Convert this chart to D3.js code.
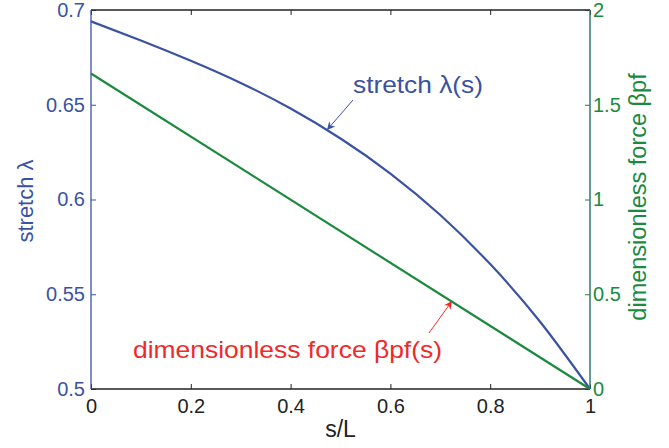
<!DOCTYPE html>
<html><head><meta charset="utf-8">
<script src="https://cdn.jsdelivr.net/npm/d3@7"></script>
<style>body{margin:0;background:#fff}svg{display:block}text{font-family:"Liberation Sans",Arial,sans-serif}</style>
</head><body><svg id="c" width="669" height="448"></svg>
<script>
const sPos = [0, 0.1, 0.2, 0.3, 0.4, 0.5, 0.6, 0.7, 0.8, 0.9, 1];
const stretch = [0.694, 0.6839, 0.6732, 0.6615, 0.648, 0.6322, 0.6137, 0.5918, 0.5659, 0.5355, 0.5];
const forceS = [0, 1];
const force = [1.665, 0];
const xTicks = [0, 0.2, 0.4, 0.6, 0.8, 1];
const yLeftTicks = [0.5, 0.55, 0.6, 0.65, 0.7];
const yRightTicks = [0, 0.5, 1, 1.5, 2];

const blue = "#3a52a4", green = "#1b8a3e", red = "#ee2a2a", teal = "#2f7a6e";
const L = 91, R = 590, T = 10, B = 389;
const svg = d3.select("#c");
const x = d3.scaleLinear().domain([0, 1]).range([L, R]);
const yl = d3.scaleLinear().domain([0.5, 0.7]).range([B, T]);
const yr = d3.scaleLinear().domain([0, 2]).range([B, T]);

function style(g, color) {
  g.select(".domain").remove();
  g.selectAll(".tick line").attr("stroke", color).attr("stroke-width", 1);
  g.selectAll(".tick text").attr("fill", color).style("font-size", "20px");
}
const gb = svg.append("g").attr("transform", `translate(0,${B})`)
  .call(d3.axisBottom(x).tickValues(xTicks).tickSize(-5).tickPadding(10).tickFormat(d3.format("")));
style(gb, "#222");
const gt = svg.append("g").attr("transform", `translate(0,${T})`)
  .call(d3.axisTop(x).tickValues(xTicks).tickSize(-5).tickFormat(""));
style(gt, "#222");
const gl = svg.append("g").attr("transform", `translate(${L},0)`)
  .call(d3.axisLeft(yl).tickValues(yLeftTicks).tickSize(-5).tickPadding(6).tickFormat(d3.format("")));
style(gl, blue);
const gr = svg.append("g").attr("transform", `translate(${R},0)`)
  .call(d3.axisRight(yr).tickValues(yRightTicks).tickSize(-5).tickPadding(3).tickFormat(d3.format("")));
style(gr, green);

svg.append("line").attr("x1", L).attr("x2", R).attr("y1", T).attr("y2", T).attr("stroke", "#222").attr("stroke-width", 1.3);
svg.append("line").attr("x1", L).attr("x2", R).attr("y1", B).attr("y2", B).attr("stroke", "#222").attr("stroke-width", 1.3);
svg.append("line").attr("x1", L).attr("x2", L).attr("y1", T).attr("y2", B).attr("stroke", blue).attr("stroke-width", 1.3);
svg.append("line").attr("x1", R).attr("x2", R).attr("y1", T).attr("y2", B).attr("stroke", teal).attr("stroke-width", 1.5);

const blueData = sPos.map((s, i) => [s, stretch[i]]);
svg.append("path").attr("d", d3.line().x(d => x(d[0])).y(d => yl(d[1])).curve(d3.curveNatural)(blueData))
  .attr("fill", "none").attr("stroke", blue).attr("stroke-width", 2.2);
const greenData = forceS.map((s, i) => [s, force[i]]);
svg.append("path").attr("d", d3.line().x(d => x(d[0])).y(d => yr(d[1]))(greenData))
  .attr("fill", "none").attr("stroke", green).attr("stroke-width", 2.2);

svg.append("text").attr("x", 340.5).attr("y", 437).attr("text-anchor", "middle").attr("fill", "#222").style("font-size", "23px").text("s/L");
svg.append("text").attr("transform", "translate(33,201) rotate(-90)").attr("text-anchor", "middle").attr("fill", blue).style("font-size", "22px").text("stretch λ");
svg.append("text").attr("transform", "translate(646,197) rotate(-90)").attr("text-anchor", "middle").attr("fill", green).style("font-size", "23.5px").text("dimensionless force βpf");

const defs = svg.append("defs");
function marker(id, color) {
  defs.append("marker").attr("id", id).attr("viewBox", "0 0 10 10").attr("refX", 10).attr("refY", 5)
    .attr("markerWidth", 10).attr("markerHeight", 8).attr("markerUnits", "userSpaceOnUse").attr("orient", "auto")
    .append("path").attr("d", "M0,0 L10,5 L0,10 L3,5 Z").attr("fill", color);
}
marker("ab", blue); marker("ar", red);
svg.append("text").attr("x", 353).attr("y", 93).attr("fill", blue).style("font-size", "24px")
  .attr("textLength", 130).attr("lengthAdjust", "spacingAndGlyphs").text("stretch λ(s)");
svg.append("line").attr("x1", 353).attr("y1", 100).attr("x2", 327).attr("y2", 130).attr("stroke", blue).attr("stroke-width", 1).attr("marker-end", "url(#ab)");
svg.append("text").attr("x", 133).attr("y", 358).attr("fill", red).style("font-size", "24px")
  .attr("textLength", 309).attr("lengthAdjust", "spacingAndGlyphs").text("dimensionless force βpf(s)");
svg.append("line").attr("x1", 429).attr("y1", 333).attr("x2", 452).attr("y2", 301).attr("stroke", red).attr("stroke-width", 1).attr("marker-end", "url(#ar)");
</script></body></html>
